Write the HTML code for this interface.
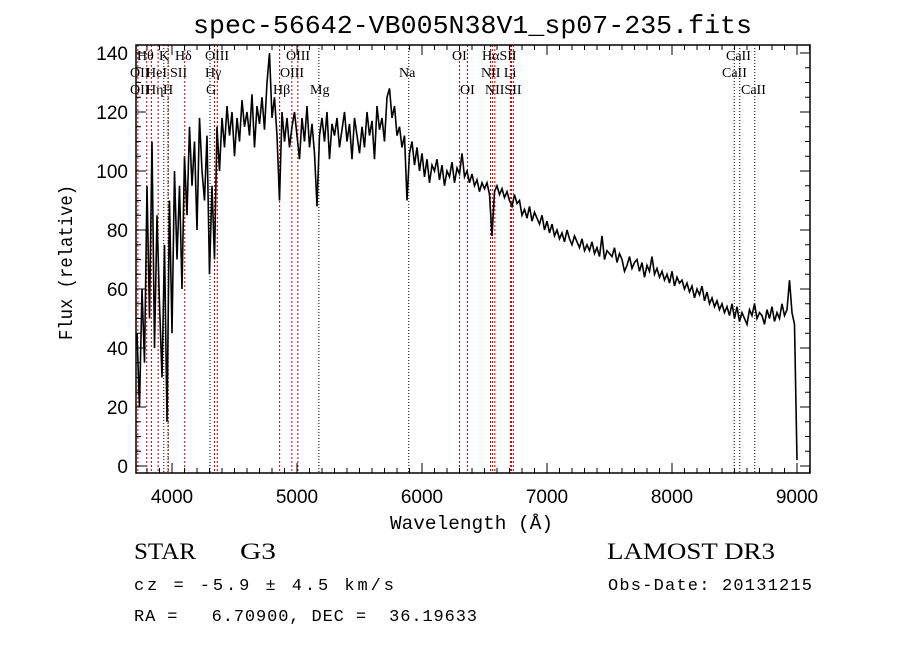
<!DOCTYPE html>
<html><head><meta charset="utf-8"><style>
html,body{margin:0;padding:0;background:#fff;}
svg{display:block;}
.ser{font-family:"Liberation Serif","DejaVu Serif",serif;}
.mono{font-family:"Liberation Mono","DejaVu Sans Mono",monospace;}
.sans{font-family:"Liberation Sans","DejaVu Sans",sans-serif;}
</style></head><body>
<svg id="chart" width="900" height="649" viewBox="0 0 900 649" xmlns="http://www.w3.org/2000/svg">
<rect x="0" y="0" width="900" height="649" fill="#fff"/>
<text class="mono" x="193" y="33" font-size="26" textLength="559" lengthAdjust="spacingAndGlyphs">spec-56642-VB005N38V1_sp07-235.fits</text>
<g id="lines"></g>
<g id="labels"></g>
<g id="ticks"></g>
<polyline id="spec" fill="none" stroke="#000" stroke-width="1.6" stroke-linejoin="miter"/>
<rect x="136" y="45" width="674" height="428" fill="none" stroke="#000" stroke-width="1.5"/>
<text class="mono" x="390" y="529" font-size="19" textLength="163" lengthAdjust="spacingAndGlyphs">Wavelength (Å)</text>
<text class="mono" x="0" y="0" font-size="19" textLength="155" lengthAdjust="spacingAndGlyphs" transform="translate(72,340) rotate(-90)">Flux (relative)</text>
<text class="ser" x="134" y="559" font-size="23" textLength="62" lengthAdjust="spacingAndGlyphs">STAR</text>
<text class="ser" x="240" y="559" font-size="23" textLength="36" lengthAdjust="spacingAndGlyphs">G3</text>
<text class="ser" x="607" y="559" font-size="23" textLength="168" lengthAdjust="spacingAndGlyphs">LAMOST DR3</text>
<text class="mono" x="134" y="590" font-size="17" textLength="260" lengthAdjust="spacing" xml:space="preserve">cz = -5.9 ± 4.5 km/s</text>
<text class="mono" x="608" y="590" font-size="17" textLength="204" lengthAdjust="spacing">Obs-Date: 20131215</text>
<text class="mono" x="134" y="621" font-size="17" textLength="343" lengthAdjust="spacing" xml:space="preserve">RA =   6.70900, DEC =  36.19633</text>
</svg>
<script>
const waveStart = 3720, waveStep = 20;
const flux = [
45,20,60,35,95,50,110,40,85,55,
30,75,15,90,45,100,70,95,60,105,
85,115,95,110,80,118,100,90,112,65,
95,70,115,100,118,108,122,112,120,105,
118,110,124,115,120,112,126,108,122,116,
125,114,130,140,118,125,112,90,120,110,
118,108,115,120,112,104,118,110,122,108,
116,106,88,112,118,110,120,104,116,112,
118,108,114,120,110,116,104,118,112,106,
115,108,120,112,117,104,122,114,118,110,
125,128,118,122,112,115,108,112,90,106,
110,102,108,100,106,98,104,96,102,100,
104,97,102,95,100,98,103,96,101,99,
106,98,100,96,99,95,97,93,96,94,
96,92,78,93,95,92,94,91,93,90,
88,92,89,90,85,87,84,88,83,86,
84,82,85,80,83,79,82,78,80,77,
79,76,80,77,75,78,76,74,77,73,
75,73,76,72,74,71,78,70,73,72,
71,74,69,72,70,66,68,71,67,69,
70,66,69,64,68,66,71,65,67,64,
66,63,65,62,66,61,64,62,63,60,
62,59,61,57,60,58,61,56,59,55,
57,54,56,53,55,52,54,51,55,50,
54,49,52,50,48,53,51,55,50,52,
51,48,53,50,54,49,52,50,55,51,
53,63,52,48,2];
const emissionLines = [3727,3798,3835,3889,3970,4102,4340,4363,4861,4959,5007,6300,6364,6548,6563,6583,6707,6716,6731];
const absorptionLines = [3934,3968,4304,5175,5894,8498,8542,8662];
const xTickLabels = [4000,5000,6000,7000,8000,9000];
const yTickLabels = [0,20,40,60,80,100,120,140];
const lineLabels = [
["Hθ",137,1],["K",159,1],["Hδ",175,1],["OIII",205,1],["OIII",286,1],["OI",452,1],["HαSII",482,1],["CaII",726,1],
["OII",130,2],["HeI",146,2],["SII",170,2],["Hγ",205,2],["OIII",280,2],["Na",399,2],["NII Li",481,2],["CaII",722,2],
["OII",130,3],["Hη",146,3],["H",163,3],["G",206,3],["Hβ",273,3],["Mg",310,3],["OI",460,3],["NIISII",485,3],["CaII",741,3]];

const NS="http://www.w3.org/2000/svg";
const X = w => 172 + (w-4000)*0.125;
const Y = v => 466 - v*2.95;
function mk(tag, attrs, parent){const e=document.createElementNS(NS,tag);for(const k in attrs)e.setAttribute(k,attrs[k]);parent.appendChild(e);return e;}

const lg=document.getElementById('lines');
emissionLines.forEach(w=>{
  const l=mk('line',{x1:X(w),x2:X(w),y1:45,y2:473,stroke:'#c00000','stroke-width':1,'stroke-dasharray':'2,2'},lg);
  
  
});
absorptionLines.forEach(w=>{
  const l=mk('line',{x1:X(w),x2:X(w),y1:45,y2:473,stroke:'#000','stroke-width':1,'stroke-dasharray':'1,2'},lg);
  
  
});
const lb=document.getElementById('labels');
lineLabels.forEach(d=>{
  const t=mk('text',{x:d[1],y:45+17*d[2]-2,'font-size':14,class:'ser'},lb);
  t.textContent=d[0];
  
  
});
const pts=[];
flux.forEach((f,i)=>{
  const w=waveStart+i*waveStep;
  pts.push(X(w)+','+Y(f));
});
document.getElementById('spec').setAttribute('points',pts.join(' '));

const tg=document.getElementById('ticks');
for(let w=3800;w<=9100;w+=100){
  const major=w%1000===0, len=major?10:5, x=X(w);
  mk('line',{x1:x,x2:x,y1:473,y2:473-len,stroke:'#000'},tg);
  mk('line',{x1:x,x2:x,y1:45,y2:45+len,stroke:'#000'},tg);
}
xTickLabels.forEach(w=>{
  const t=mk('text',{x:X(w),y:503,'font-size':19,'text-anchor':'middle',class:'sans'},tg);
  t.textContent=w;
  
  
});
for(let v=0;v<=140;v+=5){
  const major=v%20===0,len=major?10:5,y=Y(v);
  mk('line',{x1:136,x2:136+len,y1:y,y2:y,stroke:'#000'},tg);
  mk('line',{x1:810,x2:810-len,y1:y,y2:y,stroke:'#000'},tg);
}
yTickLabels.forEach(v=>{
  const t=mk('text',{x:128,y:Y(v)+7,'font-size':19,'text-anchor':'end',class:'sans'},tg);
  t.textContent=v;
  
  
});
</script>
</body></html>
